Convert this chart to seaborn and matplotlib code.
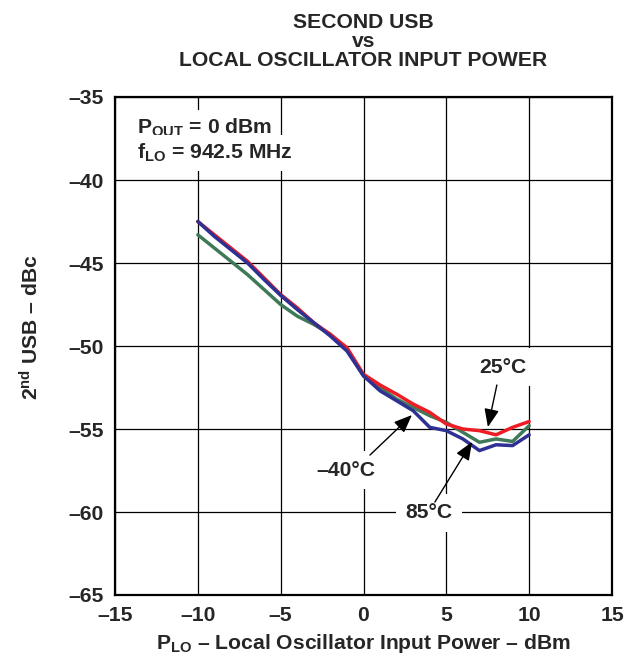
import matplotlib
matplotlib.use("Agg")
import matplotlib.pyplot as plt
import seaborn as sns
import numpy as np
import pandas as pd

# Data
p_lo = [-10, -9, -8, -7, -6, -5, -4, -3, -2, -1, 0,
        1, 2, 3, 4, 5, 6, 7, 8, 9, 10]
usb_m40 = [-43.3, -44.1, -44.9, -45.7, -46.6, -47.5, -48.2, -48.7, -49.3, -50.2, -51.8,
           -52.5, -53.2, -53.7, -54.2, -54.6, -55.2, -55.8, -55.6, -55.75, -54.8]
usb_25 = [-42.5, -43.3, -44.1, -44.9, -45.9, -46.9, -47.7, -48.6, -49.3, -50.1, -51.7,
          -52.35, -52.9, -53.5, -54.0, -54.7, -55.0, -55.1, -55.35, -54.9, -54.55]
usb_85 = [-42.5, -43.4, -44.2, -45.0, -46.0, -46.95, -47.8, -48.6, -49.4, -50.3, -51.8,
          -52.7, -53.3, -53.9, -54.9, -55.1, -55.6, -56.3, -55.95, -56.0, -55.35]
temps = ["-40C", "25C", "85C"]
colors = {"-40C": "#3f7a58", "25C": "#ee1c25", "85C": "#2e3192"}

x_ticks = [-15, -10, -5, 0, 5, 10, 15]
y_ticks = [-65, -60, -55, -50, -45, -40, -35]

# Parameters
my_fontsize = 15.2
line_w = 2.5

df = pd.DataFrame({
    "p_lo": p_lo * 3,
    "usb": usb_m40 + usb_25 + usb_85,
    "temp": ["-40C"] * len(p_lo) + ["25C"] * len(p_lo) + ["85C"] * len(p_lo),
})

sns.set_style("white")
plt.rcParams['font.family'] = ['Liberation Sans', 'DejaVu Sans']
plt.rcParams['font.weight'] = 'bold'
plt.rcParams['mathtext.fontset'] = 'custom'
plt.rcParams['mathtext.rm'] = 'Liberation Sans:bold'
plt.rcParams['mathtext.bf'] = 'Liberation Sans:bold'
plt.rcParams['mathtext.it'] = 'Liberation Sans:bold'

fig = plt.figure(figsize=(6.36, 6.62), dpi=100)
ax = fig.add_axes([115 / 636, 1 - 595 / 662, (612 - 115) / 636, (595 - 97) / 662])

sns.lineplot(data=df, x="p_lo", y="usb", hue="temp", hue_order=temps,
             palette=colors, linewidth=line_w, legend=False, ax=ax,
             estimator=None, sort=False)

ax.set_xlim(-15, 15)
ax.set_ylim(-65, -35)
ax.set_xticks(x_ticks)
ax.set_yticks(y_ticks)
ax.set_xticklabels([str(v).replace("-", "\u2013") for v in x_ticks])
ax.set_yticklabels([str(v).replace("-", "\u2013") for v in y_ticks])
ax.tick_params(axis="both", length=0, pad=8, labelsize=my_fontsize)
for lab in ax.get_xticklabels() + ax.get_yticklabels():
    lab.set_fontweight("bold")
ax.grid(True, color="black", linewidth=0.9)
ax.set_axisbelow(True)
for s in ax.spines.values():
    s.set_linewidth(1.6)
    s.set_color("black")

ax.set_xlabel(r"$\mathbf{P_{LO}}$ " + "\u2013 Local Oscillator Input Power \u2013 dBm",
              fontsize=my_fontsize, fontweight="bold", labelpad=5)
ax.set_ylabel(r"$\mathbf{2^{nd}}$ USB " + "\u2013 dBc", fontsize=my_fontsize,
              fontweight="bold")
ax.yaxis.set_label_coords(-0.145, 0.537)

ax.set_title("SECOND USB\nvs\nLOCAL OSCILLATOR INPUT POWER", fontsize=my_fontsize,
             fontweight="bold", pad=22, linespacing=1.0)

box = dict(facecolor="white", edgecolor="none", pad=5)
ax.text(-13.67, -36.87, r"$\mathbf{P_{OUT}}$ = 0 dBm", fontsize=my_fontsize,
        fontweight="bold", ha="left", va="center", bbox=box)
ax.text(-13.67, -38.37, r"$\mathbf{f_{LO}}$ = 942.5 MHz", fontsize=my_fontsize,
        fontweight="bold", ha="left", va="center", bbox=box)

arrow = dict(arrowstyle="-|>,head_length=1.1,head_width=0.45", color="black",
             lw=1.0, shrinkA=0, shrinkB=0)
labels = [("25\u00b0C", (8.42, -51.27), (8.05, -52.35), (7.51, -54.88)),
          ("\u201340\u00b0C", (-1.06, -57.47), (0.39, -56.57), (2.92, -54.16)),
          ("85\u00b0C", (3.95, -60.06), (4.31, -59.4), (6.55, -55.78))]
for txt, pos, tail, head in labels:
    ax.text(pos[0], pos[1], txt, fontsize=my_fontsize, fontweight="bold",
            ha="center", va="center", bbox=dict(facecolor="white", edgecolor="none", pad=7),
            zorder=4)
    ax.annotate("", xy=head, xytext=tail, arrowprops=arrow, zorder=5)

plt.savefig("out.png", dpi=100)
